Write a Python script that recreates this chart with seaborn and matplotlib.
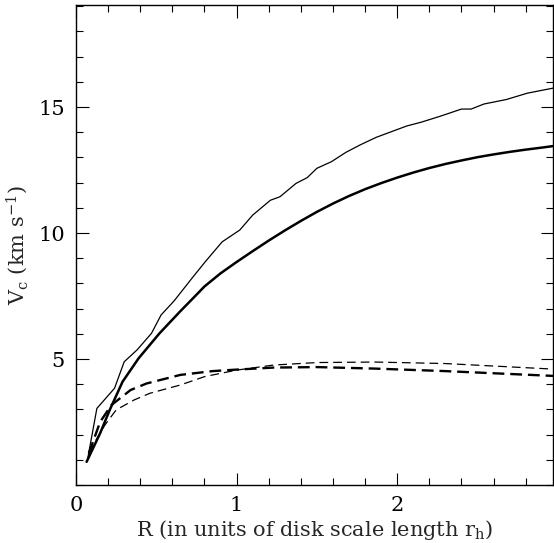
import numpy as np
import pandas as pd
import matplotlib
matplotlib.use("Agg")
import matplotlib.pyplot as plt
from matplotlib.ticker import MultipleLocator
import seaborn as sns

# thin solid curve
r_thin = [0.07, 0.13, 0.24, 0.30, 0.38, 0.47, 0.53, 0.61, 0.73, 0.81, 0.91, 1.02, 1.10, 1.21, 1.27, 1.37, 1.44, 1.50, 1.59, 1.68, 1.77, 1.87, 2.06, 2.15, 2.27, 2.40, 2.46, 2.54, 2.68, 2.81, 2.97]
v_thin = [0.95, 3.04, 3.84, 4.89, 5.36, 6.02, 6.75, 7.3, 8.27, 8.9, 9.65, 10.12, 10.71, 11.3, 11.44, 11.97, 12.2, 12.57, 12.83, 13.2, 13.5, 13.8, 14.25, 14.4, 14.64, 14.92, 14.92, 15.12, 15.3, 15.55, 15.75]
# thick solid curve
r_thick = [0.066, 0.15, 0.21, 0.29, 0.39, 0.52, 0.65, 0.73, 0.80, 0.90, 1.0, 1.1, 1.2, 1.3, 1.4, 1.5, 1.6, 1.7, 1.8, 1.9, 2.0, 2.1, 2.2, 2.3, 2.4, 2.5, 2.6, 2.7, 2.8, 2.9, 2.97]
v_thick = [0.92, 2.05, 2.98, 4.1, 5.03, 6.02, 6.9, 7.42, 7.88, 8.4, 8.85, 9.28, 9.7, 10.1, 10.48, 10.84, 11.17, 11.47, 11.74, 11.98, 12.2, 12.4, 12.58, 12.74, 12.88, 13.01, 13.12, 13.22, 13.31, 13.39, 13.45]
# thick dashed curve
r_tdash = [0.08, 0.15, 0.22, 0.34, 0.44, 0.65, 0.85, 1.0, 1.23, 1.5, 1.86, 2.3, 2.97]
v_tdash = [1.26, 2.5, 3.17, 3.77, 4.03, 4.37, 4.52, 4.58, 4.66, 4.68, 4.62, 4.52, 4.33]
# thin dashed curve
r_ndash = [0.08, 0.18, 0.25, 0.36, 0.46, 0.65, 0.80, 1.0, 1.23, 1.5, 1.86, 2.3, 2.97]
v_ndash = [1.3, 2.38, 2.98, 3.37, 3.64, 3.97, 4.3, 4.56, 4.76, 4.86, 4.88, 4.82, 4.6]

sns.set_theme(style="ticks")
plt.rcParams['font.family'] = ['DejaVu Serif']
plt.rcParams['mathtext.fontset'] = 'dejavuserif'

fig = plt.figure(figsize=(5.54, 5.43), dpi=100)
ax = fig.add_axes([76/554, 58/543, 477/554, 480/543])

sns.lineplot(x=r_thin, y=v_thin, ax=ax, color='black', lw=0.9, sort=False)
sns.lineplot(x=r_thick, y=v_thick, ax=ax, color='black', lw=1.8, sort=False)
sns.lineplot(x=r_tdash, y=v_tdash, ax=ax, color='black', lw=1.7, sort=False,
             linestyle=(0, (5, 2.5)))
sns.lineplot(x=r_ndash, y=v_ndash, ax=ax, color='black', lw=0.9, sort=False,
             linestyle=(0, (7, 4)))

ax.set_xlim(0, 2.97)
ax.set_ylim(0, 19.05)
ax.set_xticks([0, 1, 2])
ax.set_yticks([5, 10, 15])
ax.xaxis.set_minor_locator(MultipleLocator(0.2))
ax.yaxis.set_minor_locator(MultipleLocator(1))
ax.tick_params(which='both', direction='in', top=True, right=True, colors='black',
               labelsize=15, width=0.8)
ax.tick_params(which='major', length=9, pad=8)
ax.tick_params(which='minor', length=5)
for s in ax.spines.values():
    s.set_color('black')
    s.set_linewidth(1.0)

ax.set_xlabel(r'R (in units of disk scale length r$_{\mathrm{h}}$)', fontsize=15, labelpad=2)
ax.set_ylabel(r'V$_{\mathrm{c}}$ (km s$^{-1}$)', fontsize=15, labelpad=6)

fig.savefig('out.png', dpi=100)
